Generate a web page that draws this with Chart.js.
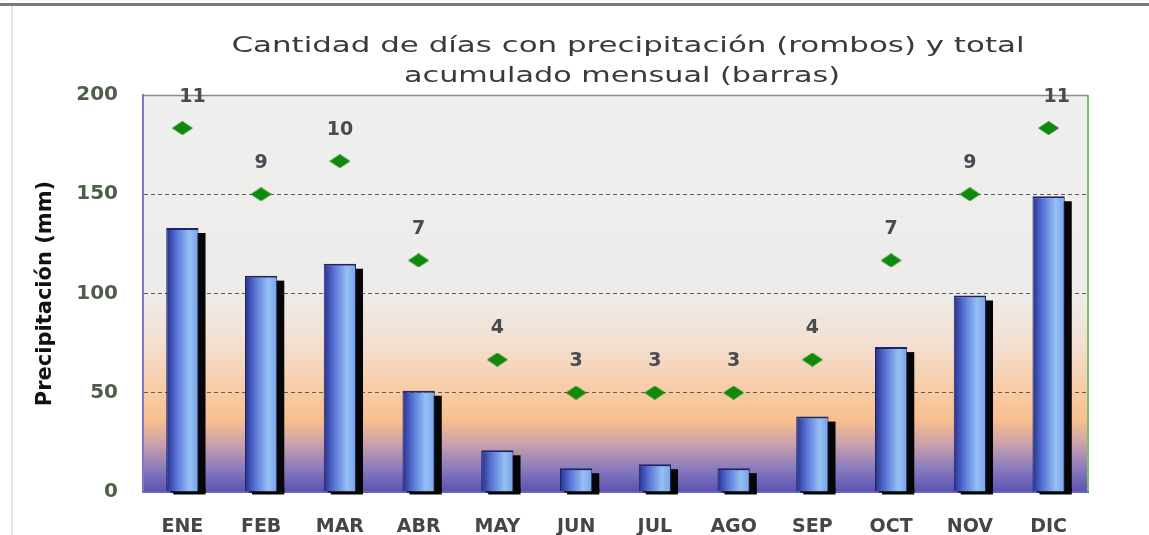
<!DOCTYPE html>
<html>
<head>
<meta charset="utf-8">
<script src="https://cdn.jsdelivr.net/npm/chart.js@4.4.0/dist/chart.umd.min.js"></script>
<style>
  html, body { margin: 0; padding: 0; background: #fff; }
  #wrap { width: 1149px; height: 535px; position: relative; }
</style>
</head>
<body>
<div id="wrap"><canvas id="chart" width="1149" height="535"></canvas></div>
<script>
// Data
const months = ['ENE', 'FEB', 'MAR', 'ABR', 'MAY', 'JUN', 'JUL', 'AGO', 'SEP', 'OCT', 'NOV', 'DIC'];
const totalMm = [133, 109, 115, 51, 21, 12, 14, 12, 38, 73, 99, 149];
const rainDays = [11, 9, 10, 7, 4, 3, 3, 3, 4, 7, 9, 11];
const yTicks = [0, 50, 100, 150, 200];
const titleLines = ['Cantidad de días con precipitación (rombos) y total', 'acumulado mensual (barras)'];

const FONT = '"DejaVu Sans", sans-serif';

// flattened green diamond for the day markers
const diamond = document.createElement('canvas');
diamond.width = 21;
diamond.height = 14;
(function () {
    const d = diamond.getContext('2d');
    d.fillStyle = '#108a0c';
    d.beginPath();
    d.moveTo(10.5, 0);
    d.lineTo(21, 7);
    d.lineTo(10.5, 14);
    d.lineTo(0, 7);
    d.closePath();
    d.fill();
})();

// background gradient, borders, frame lines and the stretched title
const backdrop = {
    id: 'backdrop',
    beforeDraw(chart) {
        const { ctx, chartArea: a } = chart;
        ctx.save();
        ctx.fillStyle = '#7a7a7a';
        ctx.fillRect(0, 3, 1149, 3);
        ctx.fillStyle = '#e4e4e4';
        ctx.fillRect(11, 6, 2, 529);

        const g = ctx.createLinearGradient(0, a.top, 0, a.bottom);
        g.addColorStop(0, '#efefef');
        g.addColorStop(0.5, '#eeecea');
        g.addColorStop(0.63, '#f3dfd0');
        g.addColorStop(0.76, '#f8c9a0');
        g.addColorStop(0.82, '#f7bf8e');
        g.addColorStop(0.88, '#caa0ac');
        g.addColorStop(0.94, '#8a7cbc');
        g.addColorStop(1, '#5a52b4');
        ctx.fillStyle = g;
        ctx.fillRect(a.left, a.top, a.right - a.left, a.bottom - a.top);

        ctx.strokeStyle = '#8c8c8c';
        ctx.lineWidth = 1.5;
        ctx.beginPath();
        ctx.moveTo(a.left, a.top + 0.5);
        ctx.lineTo(a.right, a.top + 0.5);
        ctx.stroke();
        ctx.strokeStyle = '#7fbf6a';
        ctx.lineWidth = 2;
        ctx.beginPath();
        ctx.moveTo(a.right, a.top);
        ctx.lineTo(a.right, a.bottom);
        ctx.stroke();

        // title, stretched sideways to get the wide look of the original face
        ctx.font = '22px ' + FONT;
        ctx.fillStyle = '#3a3a3a';
        ctx.textAlign = 'center';
        ctx.textBaseline = 'middle';
        const widths = [793, 436];
        const centres = [[628, 46], [622, 76]];
        titleLines.forEach((t, i) => {
            const sx = widths[i] / ctx.measureText(t).width;
            ctx.save();
            ctx.translate(centres[i][0], centres[i][1]);
            ctx.scale(sx, 1);
            ctx.fillText(t, 0, 0);
            ctx.restore();
        });
        ctx.restore();
    }
};

// black drop shadow behind each bar, and the day count above each diamond
const barShadow = {
    id: 'barShadow',
    beforeDatasetDraw(chart, args) {
        if (args.index !== 0) return;
        const { ctx } = chart;
        ctx.save();
        ctx.fillStyle = '#060606';
        chart.getDatasetMeta(0).data.forEach(bar => {
            const w = bar.width;
            ctx.fillRect(bar.x - w / 2 + 7, bar.y + 5, w, bar.base - bar.y - 2);
            ctx.fillRect(bar.x - w / 2 + 4, bar.base - 4, w + 3, 5);
        });
        ctx.restore();
    },
    afterDatasetsDraw(chart) {
        const { ctx } = chart;
        ctx.save();
        ctx.font = 'bold 19px ' + FONT;
        ctx.fillStyle = '#4a4a55';
        ctx.textAlign = 'center';
        ctx.textBaseline = 'bottom';
        chart.getDatasetMeta(1).data.forEach((pt, i) => {
            ctx.fillText(String(rainDays[i]), pt.x + (i === 0 ? 10 : (i === 11 ? 8 : 0)), pt.y - 22);
        });
        ctx.restore();
    }
};

function barGradient(context) {
    const chart = context.chart;
    const xs = chart.scales.x;
    if (!xs || !chart.chartArea) return '#6f8fe0';
    const cx = xs.getPixelForValue(context.dataIndex);
    const half = 16;
    const g = chart.ctx.createLinearGradient(cx - half, 0, cx + half, 0);
    g.addColorStop(0, '#26318c');
    g.addColorStop(0.3, '#5670d4');
    g.addColorStop(0.72, '#94c0f4');
    g.addColorStop(1, '#7aa2e6');
    return g;
}

new Chart(document.getElementById('chart'), {
    type: 'bar',
    data: {
        labels: months,
        datasets: [
            {
                label: 'Total acumulado (mm)',
                data: totalMm,
                backgroundColor: barGradient,
                borderColor: '#1c2466',
                borderWidth: { top: 2, left: 1, right: 1, bottom: 0 },
                barPercentage: 0.41,
                categoryPercentage: 1,
                yAxisID: 'y',
                order: 2
            },
            {
                type: 'line',
                label: 'Días con precipitación',
                data: rainDays,
                showLine: false,
                pointStyle: diamond,
                yAxisID: 'y1',
                order: 1
            }
        ]
    },
    plugins: [backdrop, barShadow],
    options: {
        responsive: false,
        animation: false,
        layout: { padding: { left: 33, right: 61, top: 95, bottom: 0 } },
        plugins: {
            legend: { display: false },
            tooltip: { enabled: false },
            title: { display: false }
        },
        scales: {
            x: {
                grid: { display: false },
                border: { color: '#6a64b4', width: 2 },
                ticks: {
                    color: '#4a4448',
                    font: { family: FONT, size: 19, weight: 'bold' },
                    padding: 16
                },
                afterFit(scale) { scale.height = 43; }
            },
            y: {
                min: 0,
                max: 200,
                afterBuildTicks(scale) { scale.ticks = yTicks.map(v => ({ value: v })); },
                grid: {
                    color: ctx => (ctx.tick.value === 0 || ctx.tick.value === 200) ? 'rgba(0,0,0,0)' : '#5a5a5a',
                    lineWidth: 1,
                    drawTicks: false
                },
                border: { color: '#7a78c0', width: 2, dash: [4, 3] },
                ticks: {
                    color: '#4f5e4a',
                    font: { family: FONT, size: 20, weight: 'bold' },
                    padding: 25
                },
                title: {
                    display: true,
                    text: 'Precipitación (mm)',
                    color: '#111',
                    font: { family: FONT, size: 21, weight: 'bold' },
                    padding: { top: 0, bottom: 0 }
                },
                afterFit(scale) { scale.width = 110; }
            },
            y1: {
                display: false,
                min: 0,
                max: 12
            }
        }
    }
});
</script>
</body>
</html>
